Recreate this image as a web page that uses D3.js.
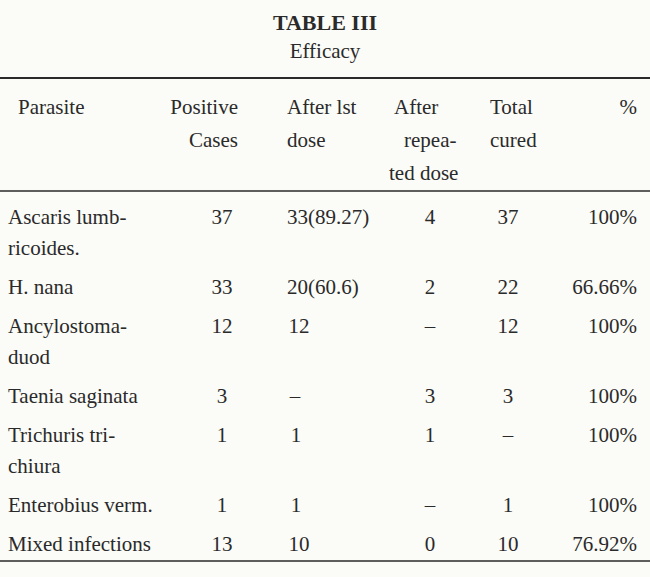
<!DOCTYPE html>
<html><head><meta charset="utf-8">
<script src="https://cdn.jsdelivr.net/npm/d3@7"></script>
<style>body{margin:0;background:#fbfbf7}</style></head>
<body><svg id="c" width="650" height="577"></svg>
<script>
const parasiteLines=[["Ascaris lumb-","ricoides."],["H. nana"],["Ancylostoma-","duod"],["Taenia saginata"],["Trichuris tri-","chiura"],["Enterobius verm."],["Mixed infections"]];
const positive=["37","33","12","3","1","1","13"];
const after1st=["33(89.27)","20(60.6)","12","–","1","1","10"];
const repeated=["4","2","–","3","1","–","0"];
const totalCured=["37","22","12","3","–","1","10"];
const percent=["100%","66.66%","100%","100%","100%","100%","76.92%"];

const svg=d3.select("#c");
const F="'Liberation Serif','DejaVu Serif',serif", col="#2a2a2a";
function t(x,y,s,anchor="start",extra={}){
  const e=svg.append("text").attr("x",x).attr("y",y).text(s).attr("text-anchor",anchor)
   .attr("font-family",F).attr("font-size",extra.size||21).attr("fill",col);
  if(extra.bold)e.attr("font-weight","bold");
  return e;
}
t(325,30,"TABLE III","middle",{bold:true,size:22});
t(325,58,"Efficacy","middle",{size:21});
[78,191,561].forEach(y=>svg.append("line").attr("x1",0).attr("x2",650).attr("y1",y).attr("y2",y).attr("stroke",col).attr("stroke-width",y==78?2:1.5));
// header
const hy=d3.scaleLinear().domain([0,1]).range([114,147]);
t(18,hy(0),"Parasite");
t(238,hy(0),"Positive","end");t(238,hy(1),"Cases","end");
t(287,hy(0),"After lst");t(287,hy(1),"dose");
t(394,hy(0),"After");t(404,hy(1),"repea-");t(389,hy(2),"ted dose");
t(490,hy(0),"Total");t(490,hy(1),"cured");
t(637,hy(0),"%","end");
// rows
let starts=[],acc=0;
parasiteLines.forEach(p=>{starts.push(acc);acc+=p.length===2?70:39;});
const y=d3.scaleLinear().domain([0,1]).range([224,225]);
parasiteLines.forEach((p,i)=>{
  const yy=y(starts[i]);
  p.forEach((s,j)=>t(8,yy+j*31,s));
  t(222,yy,positive[i],"middle");
  const a=after1st[i];
  if(a.length>2)t(287,yy,a);else t(a=="–"?295:(a.length>1?299:296),yy,a,"middle");
  t(430,yy,repeated[i],"middle");
  t(508,yy,totalCured[i],"middle");
  t(637,yy,percent[i],"end");
});
</script></body></html>
